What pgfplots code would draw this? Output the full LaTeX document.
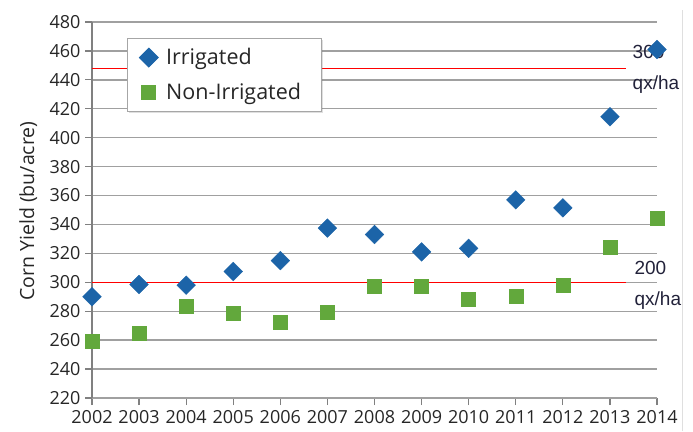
\documentclass[border=0pt]{standalone}
\usepackage{pgfplots}
\pgfplotsset{compat=1.18}
\usetikzlibrary{shadows}
\usepackage{fontspec}
\setmainfont{Open Sans}
\newfontfamily\lab{Liberation Sans}
\definecolor{irr}{HTML}{1C64A8}
\definecolor{nonirr}{HTML}{62A83C}
\definecolor{gridc}{HTML}{A0A0A0}
\definecolor{labc}{HTML}{22223A}
\begin{document}
\begin{tikzpicture}
\path[use as bounding box] (0pt,0pt) rectangle (693pt,431pt);
\draw[gray!25, line width=1pt] (682pt,0pt) -- (682pt,421pt);
\begin{axis}[
  at={(92pt,33pt)}, anchor=south west,
  scale only axis, width=565pt, height=376pt,
  xmin=2002, xmax=2014, ymin=220, ymax=480,
  xtick={2002,2003,...,2014},
  ytick={220,240,...,480},
  clip=false,
  axis x line=bottom, axis y line=left,
  axis line style={draw=gray, line width=1.2pt, -},
  x axis line style={draw=gridc},
  ymajorgrids,
  major grid style={draw=gridc, line width=1.4pt},
  tick style={draw=gray, line width=1.2pt},
  major tick length=7pt,
  tick align=outside,
  xtick pos=bottom, ytick pos=left,
  /pgf/number format/assume math mode=true,
  /pgf/number format/1000 sep={},
  ticklabel style={font=\fontsize{18}{20}\selectfont, text=black!85},
  xticklabel style={yshift=-2pt},
  yticklabel style={xshift=-1pt},
  ylabel={Corn Yield (bu/acre)},
  every axis y label/.style={at={(rel axis cs:-0.113,0.497)}, rotate=90, anchor=center,
    font=\fontsize{19.5}{22}\selectfont, text=black!85},
  legend style={at={(0.062,0.957)}, anchor=north west, draw=gray!70, line width=1pt,
    fill=white, font=\fontsize{21.5}{26}\selectfont, text=black!85,
    inner xsep=12pt, inner ysep=8pt, row sep=13pt,
    nodes={inner xsep=8pt},
    drop shadow={shadow xshift=1.5pt, shadow yshift=-1.5pt, opacity=0.25}},
  legend cell align=left,
  legend image code/.code={\draw[#1] plot coordinates {(0.3cm,0cm)};},
]
\addplot[only marks, mark=square*, mark size=6.6pt, mark options={rotate=45, fill=irr, draw=irr}] coordinates {
(2002,290) (2003,298.5) (2004,298) (2005,307.5) (2006,315) (2007,337.5)
(2008,333) (2009,321) (2010,323.5) (2011,357) (2012,351.5) (2013,414.5) (2014,461)
};
\addlegendentry{Irrigated}
\addplot[only marks, mark=square*, mark size=7pt, mark options={fill=nonirr, draw=nonirr}] coordinates {
(2002,259) (2003,264.5) (2004,283.5) (2005,278.5) (2006,272.5) (2007,279)
(2008,297.5) (2009,297.5) (2010,288.5) (2011,290.5) (2012,298) (2013,324) (2014,344.5)
};
\addlegendentry{Non-Irrigated}
\addplot[red, line width=1.3pt, forget plot] coordinates {(2002,448) (2013.35,448)};
\addplot[red, line width=1.3pt, forget plot] coordinates {(2002,300) (2013.35,300)};
\node[anchor=west, align=left, font=\lab\fontsize{19}{31}\selectfont, text=labc, inner sep=0pt]
  at (axis cs:2013.48,447) {300\\qx/ha};
\node[anchor=west, align=left, font=\lab\fontsize{19}{31}\selectfont, text=labc, inner sep=0pt]
  at (axis cs:2013.52,298) {200\\qx/ha};
\end{axis}
\end{tikzpicture}
\end{document}
